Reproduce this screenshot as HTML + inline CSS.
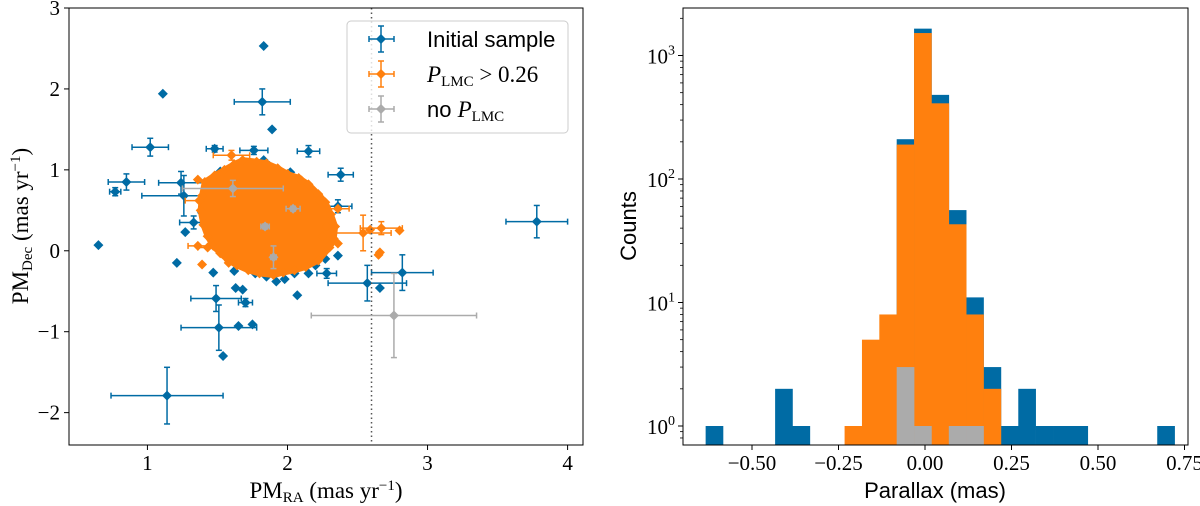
<!DOCTYPE html>
<html><head><meta charset="utf-8">
<style>
html,body{margin:0;padding:0;background:#fff;width:1200px;height:506px;overflow:hidden}
svg{display:block}
.tk{font-family:"Liberation Serif",serif;font-size:21px;fill:#000}
.sans{font-family:"Liberation Sans",sans-serif;fill:#000}
.serif{font-family:"Liberation Serif",serif;fill:#000}
</style></head>
<body>
<svg id="fig" width="1200" height="506" viewBox="0 0 1200 506" xmlns="http://www.w3.org/2000/svg">
<g id="left"></g>
<g id="right"></g>
</svg>
<script>
// ---------- Left: proper motion scatter data ----------
const blueX   = [1.83,1.11,1.82,1.89,1.02,1.48,1.76,2.15,2.38,2.02,0.85,1.24,0.77,1.26,2.36,3.78,1.39,1.33,1.27,0.65,1.21,1.47,2.36,2.28,2.82,2.57,2.66,2.07,1.49,1.63,1.68,1.70,1.51,1.65,1.75,1.54,1.14,1.85,1.92,1.98,2.05,2.15,2.20,2.27,1.77,1.67,1.83,1.87,1.47,1.52,2.17,1.62,1.72];
const blueY   = [2.53,1.94,1.84,1.50,1.28,1.26,1.24,1.23,0.94,0.97,0.85,0.84,0.73,0.68,0.55,0.36,0.47,0.35,0.23,0.07,-0.15,-0.27,-0.06,-0.28,-0.27,-0.40,-0.46,-0.55,-0.59,-0.46,-0.48,-0.64,-0.95,-0.93,-0.91,-1.30,-1.79,-0.32,-0.38,-0.35,-0.28,-0.28,-0.18,-0.10,-0.28,1.10,1.12,1.05,0.86,0.98,0.60,-0.25,-0.22];
const blueXerr= [0,0,0.20,0,0.13,0.06,0.10,0.08,0.09,0,0.13,0.16,0.04,0.30,0.10,0.22,0,0.10,0,0,0,0,0,0.07,0.22,0.28,0,0,0.18,0,0,0.05,0.27,0,0,0,0.40,0,0,0,0,0,0,0,0,0,0,0,0,0,0,0,0];
const blueYerr= [0,0,0.16,0,0.11,0.04,0.05,0.07,0.08,0,0.10,0.14,0.05,0.25,0.08,0.20,0,0.08,0,0,0,0,0,0.06,0.22,0.22,0,0,0.16,0,0,0.05,0.28,0,0,0,0.35,0,0,0,0,0,0,0,0,0,0,0,0,0,0,0,0];
// orange cluster outline (data coords, dense region of P_LMC > 0.26 stars)
const clusterX = [1.41,1.48,1.55,1.62,1.68,1.78,1.85,1.93,2.00,2.08,2.15,2.22,2.27,2.31,2.34,2.33,2.30,2.22,2.13,2.05,1.97,1.90,1.80,1.72,1.64,1.58,1.52,1.47,1.43,1.40,1.38,1.39];
const clusterY = [0.85,0.93,1.00,1.07,1.12,1.10,1.08,1.02,0.95,0.90,0.82,0.70,0.60,0.45,0.30,0.15,0.04,-0.12,-0.20,-0.24,-0.27,-0.30,-0.28,-0.24,-0.18,-0.12,-0.03,0.06,0.18,0.32,0.50,0.68];
const orangeX   = [1.36,1.37,1.60,2.10,2.23,2.36,2.54,2.59,2.67,2.80,2.66,2.65,1.36,1.43,1.39,2.30,2.36,1.58,2.28,2.25];
const orangeY   = [0.88,0.62,1.18,0.87,0.62,0.52,0.22,0.26,0.28,0.25,-0.02,-0.05,0.06,0.04,-0.17,0.07,0.09,-0.15,0.30,0.18];
const orangeXerr= [0,0.10,0.13,0,0,0.08,0.20,0,0.15,0,0,0,0.07,0.07,0,0,0,0,0,0];
const orangeYerr= [0,0,0.06,0,0,0,0.22,0,0.08,0,0,0,0,0,0,0,0,0,0,0];
const greyX   = [1.61,2.04,1.84,1.90,2.76];
const greyY   = [0.77,0.52,0.30,-0.08,-0.80];
const greyXerr= [0.36,0.05,0.03,0.02,0.59];
const greyYerr= [0.10,0.03,0.03,0.14,0.52];
const pmRaTicks  = [1,2,3,4];
const pmDecTicks = [-2,-1,0,1,2,3];
const lmcCut = 2.6;

// ---------- Right: parallax histogram data ----------
const binStart = -0.634, binWidth = 0.0502;
const countsAll    = [1,0,0,0,2,1,0,0,0,0,0,210,1650,480,56,11,3,1,2,1,1,1,0,0,0,0,1];
const countsLMC    = [0,0,0,0,0,0,0,0,1,5,8,190,1520,410,43,8,2,0,0,0,0,0,0,0,0,0,0];
const countsNoLMC  = [0,0,0,0,0,0,0,0,0,0,0,3,1,0,1,1,0,0,0,0,0,0,0,0,0,0,0];
const parallaxTicks = [-0.50,-0.25,0.00,0.25,0.50,0.75];
const countTicks = [0,1,2,3];

const NS="http://www.w3.org/2000/svg";
const BLUE="#006ba4", ORANGE="#ff800e", GREY="#ababab";
function mk(tag,attrs,parent){const e=document.createElementNS(NS,tag);for(const k in attrs)e.setAttribute(k,attrs[k]);parent.appendChild(e);return e;}

// ===== Left plot =====
const L=document.getElementById('left');
const lx0=69,lx1=583,ly0=8,ly1=445;
const xmin=0.44,xmax=4.11,ymin=-2.4,ymax=3.0;
const sx=v=>lx0+(v-xmin)/(xmax-xmin)*(lx1-lx0);
const sy=v=>ly1-(v-ymin)/(ymax-ymin)*(ly1-ly0);
const clip=mk('clipPath',{id:'lclip'},L);mk('rect',{x:lx0,y:ly0,width:lx1-lx0,height:ly1-ly0},clip);
const plotG=mk('g',{'clip-path':'url(#lclip)'},L);

function errpt(g,x,y,xe,ye,col,name){
  const grp=mk('g',{},g);
  
  
  const X=sx(x),Y=sy(y);
  if(xe>0){const a=sx(x-xe),b=sx(x+xe);mk('line',{x1:a,y1:Y,x2:b,y2:Y,stroke:col,'stroke-width':1.5},grp);
    mk('line',{x1:a,y1:Y-3,x2:a,y2:Y+3,stroke:col,'stroke-width':1.5},grp);mk('line',{x1:b,y1:Y-3,x2:b,y2:Y+3,stroke:col,'stroke-width':1.5},grp);}
  if(ye>0){const a=sy(y-ye),b=sy(y+ye);mk('line',{x1:X,y1:a,x2:X,y2:b,stroke:col,'stroke-width':1.5},grp);
    mk('line',{x1:X-3,y1:a,x2:X+3,y2:a,stroke:col,'stroke-width':1.5},grp);mk('line',{x1:X-3,y1:b,x2:X+3,y2:b,stroke:col,'stroke-width':1.5},grp);}
  const r=5;
  mk('polygon',{points:`${X},${Y-r} ${X+r},${Y} ${X},${Y+r} ${X-r},${Y}`,fill:col},grp);
}
for(let i=0;i<blueX.length;i++) errpt(plotG,blueX[i],blueY[i],blueXerr[i],blueYerr[i],BLUE,'initial-sample-point');
// cluster
const cpts=clusterX.map((x,i)=>sx(x)+','+sy(clusterY[i])).join(' ');
const cl=mk('polygon',{points:cpts,fill:ORANGE,stroke:ORANGE,'stroke-width':6,'stroke-linejoin':'round'},plotG);


for(let i=0;i<clusterX.length;i++) errpt(plotG,clusterX[i],clusterY[i],0,0,ORANGE,'plmc-cluster-edge-point');
for(let i=0;i<orangeX.length;i++) errpt(plotG,orangeX[i],orangeY[i],orangeXerr[i],orangeYerr[i],ORANGE,'plmc-point');
// dotted line
const dl=mk('line',{x1:sx(lmcCut),y1:ly0,x2:sx(lmcCut),y2:ly1,stroke:'#555','stroke-width':1.5,'stroke-dasharray':'1.5,3'},plotG);


for(let i=0;i<greyX.length;i++) errpt(plotG,greyX[i],greyY[i],greyXerr[i],greyYerr[i],GREY,'no-plmc-point');
// frame
mk('rect',{x:lx0,y:ly0,width:lx1-lx0,height:ly1-ly0,fill:'none',stroke:'#000','stroke-width':1},L);
pmRaTicks.forEach(t=>{const X=sx(t);mk('line',{x1:X,y1:ly1,x2:X,y2:ly1+5,stroke:'#000'},L);
  const tx=mk('text',{x:X,y:ly1+25,'text-anchor':'middle',class:'tk'},L);tx.textContent=String(t);
  });
pmDecTicks.forEach(t=>{const Y=sy(t);mk('line',{x1:lx0-5,y1:Y,x2:lx0,y2:Y,stroke:'#000'},L);
  const tx=mk('text',{x:lx0-9,y:Y+7,'text-anchor':'end',class:'tk'},L);tx.textContent=(t<0?'\u2212':'')+Math.abs(t);
  });
</script>
<svg style="position:absolute;left:0;top:0" width="1200" height="506" xmlns="http://www.w3.org/2000/svg">
<text x="326" y="498" text-anchor="middle" class="serif" font-size="23">PM<tspan font-size="15" dy="4">RA</tspan><tspan dy="-4"> (mas yr</tspan><tspan font-size="15" dy="-8">−1</tspan><tspan dy="8">)</tspan></text>
<text transform="translate(28,226) rotate(-90)" text-anchor="middle" class="serif" font-size="23">PM<tspan font-size="15" dy="4">Dec</tspan><tspan dy="-4"> (mas yr</tspan><tspan font-size="15" dy="-8">−1</tspan><tspan dy="8">)</tspan></text>
<g>
<rect x="347" y="21" width="221" height="112" rx="4" fill="#fff" fill-opacity="0.8" stroke="#ccc" stroke-width="1"/>
<g stroke="#006ba4" stroke-width="1.5"><line x1="369" y1="39" x2="394" y2="39"/><line x1="381" y1="26" x2="381" y2="52"/><line x1="369" y1="36" x2="369" y2="42"/><line x1="394" y1="36" x2="394" y2="42"/><line x1="378" y1="26" x2="384" y2="26"/><line x1="378" y1="52" x2="384" y2="52"/><polygon points="381,34 386,39 381,44 376,39" fill="#006ba4" stroke="none"/></g>
<text x="427" y="47" class="sans" font-size="22">Initial sample</text>
<g stroke="#ff800e" stroke-width="1.5"><line x1="369" y1="74" x2="394" y2="74"/><line x1="381" y1="61" x2="381" y2="87"/><line x1="369" y1="71" x2="369" y2="77"/><line x1="394" y1="71" x2="394" y2="77"/><line x1="378" y1="61" x2="384" y2="61"/><line x1="378" y1="87" x2="384" y2="87"/><polygon points="381,69 386,74 381,79 376,74" fill="#ff800e" stroke="none"/></g>
<text x="427" y="82" class="serif" font-size="23"><tspan font-style="italic">P</tspan><tspan font-size="15" dy="4">LMC</tspan><tspan dy="-4"> &gt; 0.26</tspan></text>
<g stroke="#ababab" stroke-width="1.5"><line x1="369" y1="109" x2="394" y2="109"/><line x1="381" y1="96" x2="381" y2="122"/><line x1="369" y1="106" x2="369" y2="112"/><line x1="394" y1="106" x2="394" y2="112"/><line x1="378" y1="96" x2="384" y2="96"/><line x1="378" y1="122" x2="384" y2="122"/><polygon points="381,104 386,109 381,114 376,109" fill="#ababab" stroke="none"/></g>
<text x="427" y="117" class="sans" font-size="22">no <tspan class="serif" font-style="italic" font-size="23">P</tspan><tspan class="serif" font-size="15" dy="4">LMC</tspan></text>
</g>
<text x="935" y="498" text-anchor="middle" class="sans" font-size="22">Parallax (mas)</text>
<text transform="translate(636,226) rotate(-90)" text-anchor="middle" class="sans" font-size="22">Counts</text>
</svg>
<script>
// ===== Right plot =====
const R=document.getElementById('right');
const rx0=683,rx1=1188,ry0=8,ry1=445;
const pxPerUnit=346, zeroX=925;
const hx=v=>zeroX+v*pxPerUnit;
const decPx=123.5, y10=426;
const hy=c=>y10-Math.log10(c)*decPx;
function drawHist(counts,col,name){
  counts.forEach((c,i)=>{ if(c<=0) return;
    const a=hx(binStart+i*binWidth), b=hx(binStart+(i+1)*binWidth);
    const r=mk('rect',{x:a,y:hy(c),width:b-a+0.3,height:ry1-hy(c),fill:col},R);
    
    
  });
}
drawHist(countsAll,BLUE,'bar-initial-sample');
drawHist(countsLMC,ORANGE,'bar-plmc');
drawHist(countsNoLMC,GREY,'bar-no-plmc');
mk('rect',{x:rx0,y:ry0,width:rx1-rx0,height:ry1-ry0,fill:'none',stroke:'#000','stroke-width':1},R);
parallaxTicks.forEach(t=>{const X=hx(t);mk('line',{x1:X,y1:ry1,x2:X,y2:ry1+5,stroke:'#000'},R);
  const tx=mk('text',{x:X,y:ry1+25,'text-anchor':'middle',class:'tk'},R);
  tx.textContent=(t<0?'\u2212':'')+Math.abs(t).toFixed(2);
  });
countTicks.forEach(p=>{const Y=hy(Math.pow(10,p));mk('line',{x1:rx0-5,y1:Y,x2:rx0,y2:Y,stroke:'#000'},R);
  const tx=mk('text',{x:rx0-8,y:Y+8,'text-anchor':'end',class:'tk'},R);
  tx.textContent='10';const s=mk('tspan',{'font-size':14,dy:-9},tx);s.textContent=String(p);
  });
// minor ticks
for(let p=-1;p<=3;p++){for(let m=2;m<=9;m++){const v=m*Math.pow(10,p);const Y=hy(v);
  if(Y<ry0||Y>ry1)continue;mk('line',{x1:rx0-3,y1:Y,x2:rx0,y2:Y,stroke:'#000','stroke-width':0.8},R);}}
</script>
</body></html>
